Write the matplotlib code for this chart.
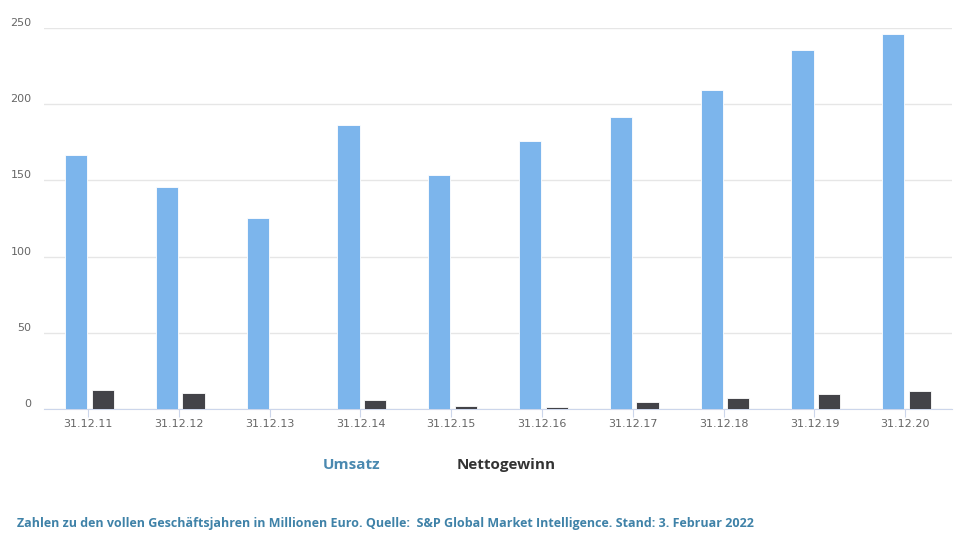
import matplotlib.pyplot as plt
import numpy as np

# Daten (Mio. Euro)
kategorien = ["31.12.11", "31.12.12", "31.12.13", "31.12.14", "31.12.15",
              "31.12.16", "31.12.17", "31.12.18", "31.12.19", "31.12.20"]
umsatz = [166.7, 145.7, 125.3, 186.4, 153.5, 175.9, 191.6, 209.3, 235.6, 246.0]
nettogewinn = [12.5, 10.5, 0.0, 5.9, 2.0, 1.3, 4.6, 7.2, 9.8, 11.8]
y_ticks = [0, 50, 100, 150, 200, 250]

BLAU = "#7cb5ec"
DUNKEL = "#434348"

fig = plt.figure(figsize=(9.61, 5.4), dpi=100)
ax = fig.add_axes([44 / 961, 1 - 409 / 540, 908 / 961, 381 / 540])

x = np.arange(len(kategorien))
breite = 0.245
ax.bar(x - 0.147, umsatz, width=breite, color=BLAU, edgecolor="white", linewidth=0.6, zorder=3)
ax.bar(x + 0.147, nettogewinn, width=breite, color=DUNKEL, edgecolor="white", linewidth=0.6, zorder=3)

ax.set_xlim(-0.5, len(kategorien) - 0.5)
ax.set_ylim(0, 250)
ax.set_yticks(y_ticks)
ax.set_xticks(x - 0.015)
ax.set_xticklabels(kategorien)
ax.grid(axis="y", color="#e6e6e6", linewidth=1, zorder=0)
for s in ["top", "right", "left"]:
    ax.spines[s].set_visible(False)
ax.spines["bottom"].set_color("#ccd6eb")
ax.tick_params(axis="y", length=0, pad=9, labelsize=8, labelcolor="#666666")
ax.tick_params(axis="x", length=6, color="#ccd6eb", pad=1, labelsize=8, labelcolor="#666666")
for lbl in ax.get_yticklabels():
    lbl.set_verticalalignment("bottom")

# Legende
fig.text(352 / 961, 1 - 465 / 540, "Umsatz", ha="center", va="center",
         fontsize=11, fontweight="bold", color="#4a89b0", family="Open Sans")
fig.text(506 / 961, 1 - 465 / 540, "Nettogewinn", ha="center", va="center",
         fontsize=11, fontweight="bold", color="#333333", family="Open Sans")

# Fußnote
fig.text(17 / 961, 1 - 524 / 540,
         "Zahlen zu den vollen Geschäftsjahren in Millionen Euro. Quelle:  S&P Global Market Intelligence. Stand: 3. Februar 2022",
         ha="left", va="center", fontsize=9, fontweight="bold", color="#3f82a8", family="Open Sans")

fig.savefig("out.png", dpi=100)
